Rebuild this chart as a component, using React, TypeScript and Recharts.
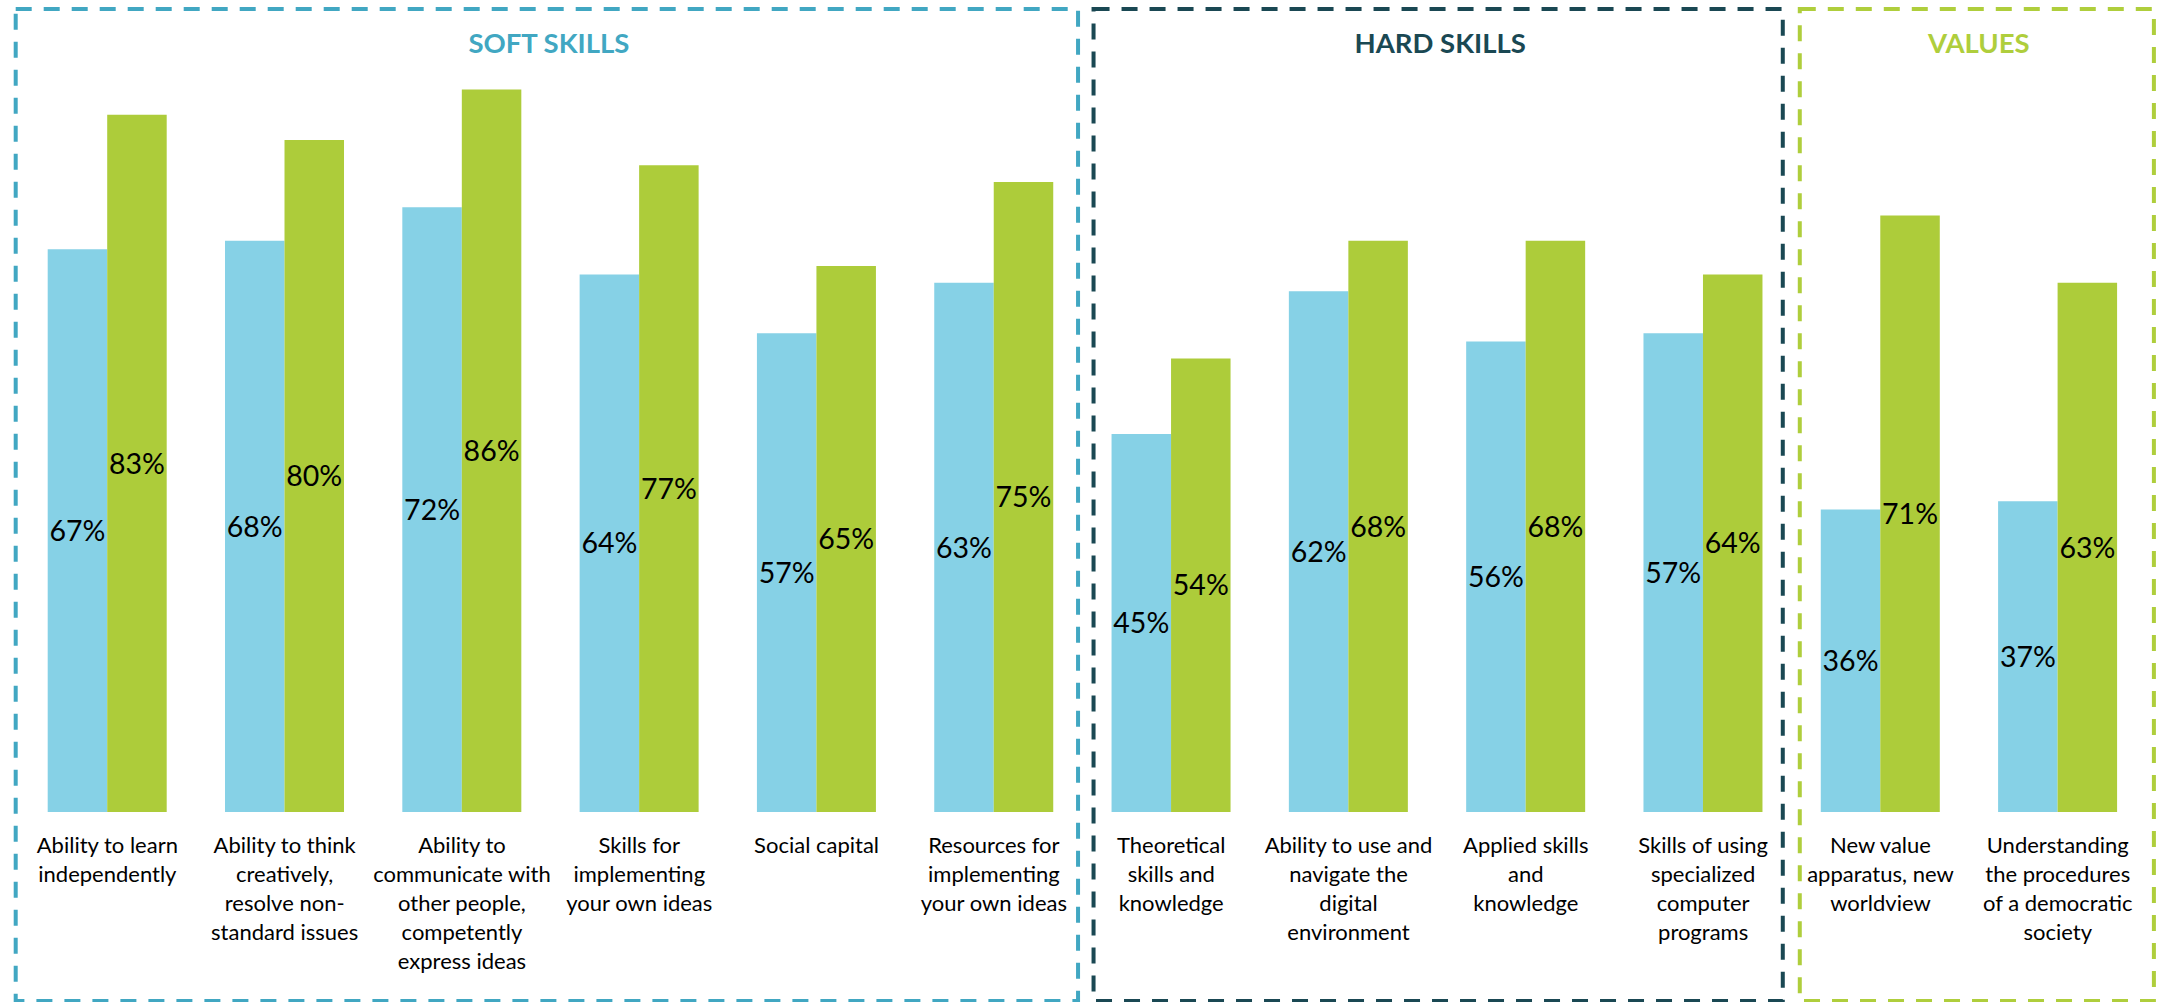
import React from 'react';
import { BarChart, Bar, XAxis, YAxis, LabelList, ReferenceArea } from 'recharts';

const categories = [
  'Ability to learn independently',
  'Ability to think creatively, resolve non-standard issues',
  'Ability to communicate with other people, competently express ideas',
  'Skills for implementing your own ideas',
  'Social capital',
  'Resources for implementing your own ideas',
  'Theoretical skills and knowledge',
  'Ability to use and navigate the digital environment',
  'Applied skills and knowledge',
  'Skills of using specialized computer programs',
  'New value apparatus, new worldview',
  'Understanding the procedures of a democratic society',
];

const tickLabelLines = [
  ['Ability to learn', 'independently'],
  ['Ability to think', 'creatively,', 'resolve non-', 'standard issues'],
  ['Ability to', 'communicate with', 'other people,', 'competently', 'express ideas'],
  ['Skills for', 'implementing', 'your own ideas'],
  ['Social capital'],
  ['Resources for', 'implementing', 'your own ideas'],
  ['Theoretical', 'skills and', 'knowledge'],
  ['Ability to use and', 'navigate the', 'digital', 'environment'],
  ['Applied skills', 'and', 'knowledge'],
  ['Skills of using', 'specialized', 'computer', 'programs'],
  ['New value', 'apparatus, new', 'worldview'],
  ['Understanding', 'the procedures', 'of a democratic', 'society'],
];

const seriesBlue = [67, 68, 72, 64, 57, 63, 45, 62, 56, 57, 36, 37];
const seriesGreen = [83, 80, 86, 77, 65, 75, 54, 68, 68, 64, 71, 63];

const groupTitles = ['SOFT SKILLS', 'HARD SKILLS', 'VALUES'];
const groupFirst = [categories[0], categories[6], categories[10]];
const groupLast = [categories[5], categories[9], categories[11]];
const groupColors = ['#41A7C2', '#1A4853', '#AFCE3C'];
const groupPadLeft = [-3, 11, 8];
const groupPadRight = [-4.5, -9, 7.5];

const data = categories.map((name, i) => ({ name, blue: seriesBlue[i], green: seriesGreen[i] }));

const BOX_TOP = 9;
const BOX_BOTTOM = 1001;

const CategoryTick = (props: any) => {
  const { x, y, payload } = props;
  const lines = tickLabelLines[payload.index] ?? [String(payload.value)];
  return (
    <text x={x} y={y} textAnchor="middle" fontFamily="Lato" fontSize={22} fill="#000">
      {lines.map((l: string, i: number) => (
        <tspan key={i} x={x} dy={i === 0 ? 40.5 : 29}>
          {l}
        </tspan>
      ))}
    </text>
  );
};

const makeBox = (g: number) => (p: any) => {
  const x0 = p.x + groupPadLeft[g];
  const x1 = p.x + p.width + groupPadRight[g];
  const color = groupColors[g];
  return (
    <g>
      <rect
        x={x0}
        y={BOX_TOP}
        width={x1 - x0}
        height={BOX_BOTTOM - BOX_TOP}
        fill="none"
        stroke={color}
        strokeWidth={4}
        strokeDasharray="16 12"
      />
      <text
        x={(x0 + x1) / 2 + 2}
        y={52.5}
        textAnchor="middle"
        fontFamily="Lato"
        fontWeight={700}
        fontSize={27.5}
        fill={color}
      >
        {groupTitles[g]}
      </text>
    </g>
  );
};

export default function App() {
  return (
    <div style={{ position: 'absolute', left: 0, top: 0, width: 2160, height: 1002, background: '#fff' }}>
      <BarChart
        width={2160}
        height={1002}
        data={data}
        margin={{ top: 56, right: 13.6, bottom: 10, left: 18.7 }}
        barGap={0}
      >
        <XAxis
          dataKey="name"
          height={180}
          interval={0}
          tickLine={false}
          axisLine={false}
          tickSize={0}
          tickMargin={0}
          tick={<CategoryTick />}
        />
        <YAxis hide domain={[0, 90]} allowDataOverflow />
        {groupTitles.map((t, g) => (
          <ReferenceArea
            key={t}
            x1={groupFirst[g]}
            x2={groupLast[g]}
            ifOverflow="visible"
            shape={makeBox(g)}
          />
        ))}
        <Bar dataKey="blue" fill="#86D1E6" barSize={59.5} isAnimationActive={false}>
          <LabelList
            dataKey="blue"
            position="center"
            formatter={(v: any) => `${v}%`}
            fill="#000"
            fontSize={28.5}
            fontFamily="Lato"
          />
        </Bar>
        <Bar dataKey="green" fill="#ADCC3A" barSize={59.5} isAnimationActive={false}>
          <LabelList
            dataKey="green"
            position="center"
            formatter={(v: any) => `${v}%`}
            fill="#000"
            fontSize={28.5}
            fontFamily="Lato"
          />
        </Bar>
      </BarChart>
    </div>
  );
}
